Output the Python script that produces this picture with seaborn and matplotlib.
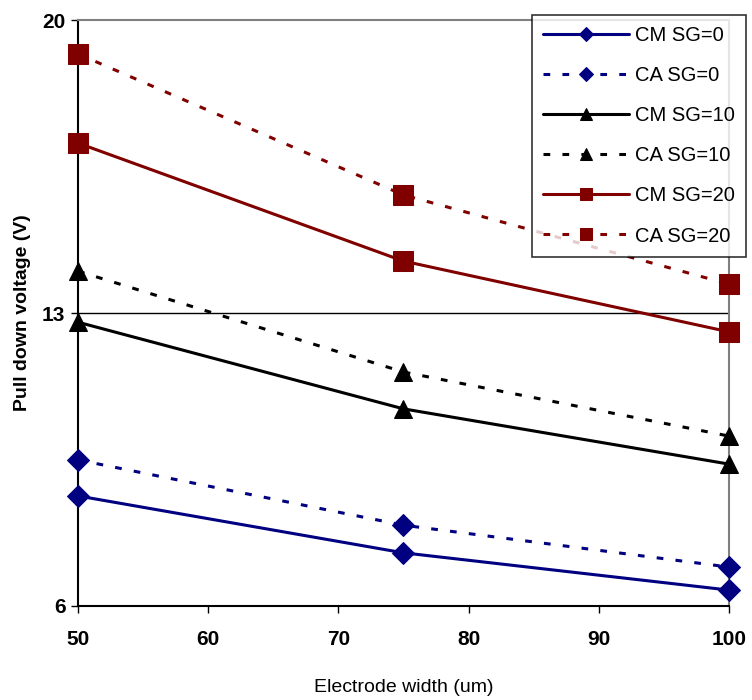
import pandas as pd
import matplotlib
matplotlib.use("Agg")
import matplotlib.pyplot as plt
import seaborn as sns

widths = [50, 75, 100]
cm_sg0 = [8.63, 7.27, 6.38]
ca_sg0 = [9.49, 7.93, 6.93]
cm_sg10 = [12.78, 10.71, 9.39]
ca_sg10 = [14.0, 11.59, 10.06]
cm_sg20 = [17.06, 14.24, 12.55]
ca_sg20 = [19.19, 15.82, 13.69]

series = [
    ("CM SG=0", cm_sg0, "#000080", "D", "-", 11),
    ("CA SG=0", ca_sg0, "#000080", "D", (0, (2.2, 4)), 11),
    ("CM SG=10", cm_sg10, "black", "^", "-", 13),
    ("CA SG=10", ca_sg10, "black", "^", (0, (2.2, 4)), 13),
    ("CM SG=20", cm_sg20, "#800000", "s", "-", 14),
    ("CA SG=20", ca_sg20, "#800000", "s", (0, (2.2, 4)), 14),
]

rows = []
for name, vals, *_ in series:
    for w, v in zip(widths, vals):
        rows.append({"width": w, "voltage": v, "series": name})
df = pd.DataFrame(rows)

sns.set_style("white")
plt.rcParams["font.family"] = ["Liberation Sans", "DejaVu Sans"]

fig = plt.figure(figsize=(7.52, 7.0), dpi=100)
ax = fig.add_axes([0.1037, 0.1343, 0.8657, 0.8371])

for name, vals, color, marker, ls, ms in series:
    sub = df[df["series"] == name]
    sns.lineplot(data=sub, x="width", y="voltage", ax=ax, color=color,
                 marker=marker, markersize=ms, linestyle=ls, linewidth=2.2,
                 markeredgecolor=color, label=name, legend=False, clip_on=False,
                 zorder=3)

ax.axhline(13, color="black", linewidth=1, zorder=1)
ax.set_xlim(50, 100)
ax.set_ylim(6, 20)
ax.set_xticks([50, 60, 70, 80, 90, 100])
ax.set_yticks([6, 13, 20])
ax.tick_params(axis="x", direction="out", length=5, width=1, labelsize=15,
               bottom=True, colors="black", pad=12)
ax.tick_params(axis="y", direction="out", length=5, width=1, labelsize=15,
               left=True, colors="black", pad=4)
for lbl in ax.get_xticklabels() + ax.get_yticklabels():
    lbl.set_fontweight("bold")
for side in ["left", "bottom"]:
    ax.spines[side].set_color("black")
    ax.spines[side].set_linewidth(1.5)
for side in ["top", "right"]:
    ax.spines[side].set_color("#808080")
    ax.spines[side].set_linewidth(1.5)

ax.set_xlabel("Electrode width (um)", fontsize=14, labelpad=22, color="black")
ax.set_ylabel("Pull down voltage (V)", fontsize=14, fontweight="bold",
              labelpad=8, color="black")

handles, labels = ax.get_legend_handles_labels()
leg = fig.legend(handles, labels, loc="upper left", bbox_to_anchor=(0.707, 0.979),
                 fontsize=14.5, frameon=True, fancybox=False, edgecolor="black",
                 markerscale=0.65, handlelength=4.3, labelspacing=1.05,
                 borderpad=0.55, handletextpad=0.3, borderaxespad=0)
leg.get_frame().set_linewidth(1.2)
for t in leg.get_texts():
    t.set_color("black")

fig.savefig("out.png", dpi=100)
